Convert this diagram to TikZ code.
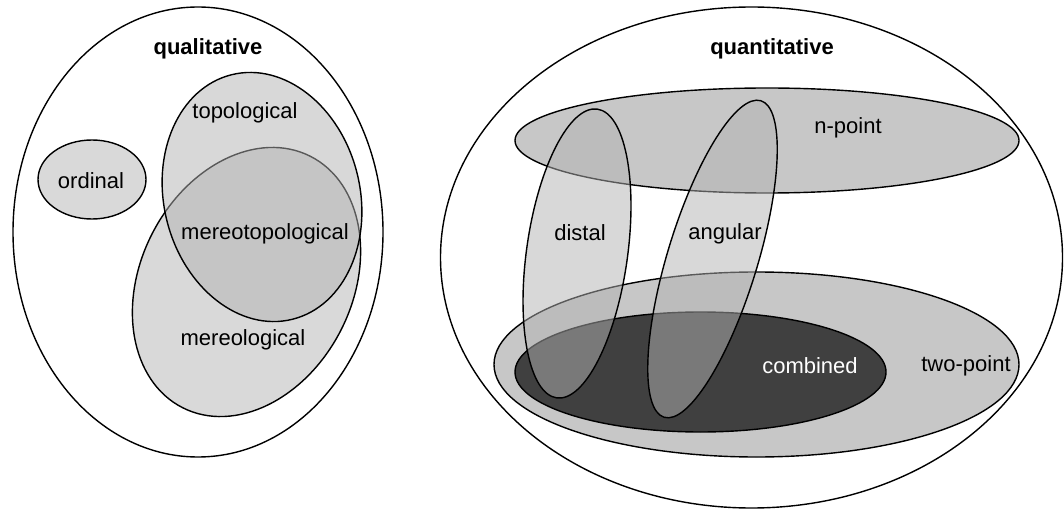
\documentclass[tikz,border=0pt]{standalone}
\usepackage{fontspec}
\setmainfont{Liberation Sans}

\begin{document}
\begin{tikzpicture}[x=1pt,y=-1pt,
    setshape/.style={draw=black,line width=1.4pt},
    glass/.style={setshape,fill=black!30,fill opacity=0.5},
    lbl/.style={font=\fontsize{22}{26}\selectfont,inner sep=0pt}]
    \useasboundingbox (0,0) rectangle (1064,510);
    % qualitative side
    \draw[setshape] (198,232) ellipse [x radius=185pt,y radius=225pt];
    \draw[setshape,fill=black!15] (92,179.5) ellipse [x radius=54pt,y radius=39.5pt];
    \draw[setshape,fill=black!15,rotate around={-27:(246.5,282)}] (246.5,282) ellipse [x radius=106pt,y radius=141pt];
    \draw[glass,rotate around={14:(262,197)}] (262,197) ellipse [x radius=98pt,y radius=126pt];
    \node[lbl,font=\fontsize{22}{26}\selectfont\bfseries] (qual) at (208,49) {qualitative};
    \node[lbl] (ordinal) at (91,181) {ordinal};
    \node[lbl] (topo) at (245,113) {topological};
    \node[lbl] (mereotopo) at (265,234) {mereotopological};
    \node[lbl] (mereo) at (243,340) {mereological};
    % quantitative side
    \draw[setshape] (751.5,257.5) ellipse [x radius=311pt,y radius=250.5pt];
    \draw[setshape,fill=black!22] (767,140.5) ellipse [x radius=252pt,y radius=52.5pt];
    \draw[setshape,fill=black!22] (756.5,364.5) ellipse [x radius=262.5pt,y radius=92.5pt];
    \draw[setshape,fill=black!75] (700.5,372) ellipse [x radius=185.5pt,y radius=60pt];
    \draw[glass,rotate around={-8:(577,253.5)}] (577,253.5) ellipse [x radius=50.5pt,y radius=145.8pt];
    \draw[glass,rotate around={-17:(712.5,259)}] (712.5,259) ellipse [x radius=45pt,y radius=165.5pt];
    \node[lbl,font=\fontsize{22}{26}\selectfont\bfseries] (quant) at (772,49) {quantitative};
    \node[lbl] (npoint) at (848,128) {n-point};
    \node[lbl] (distal) at (580,233) {distal};
    \node[lbl] (angular) at (725,234) {angular};
    \node[lbl,text=white] (combined) at (810,366) {combined};
    \node[lbl] (twopoint) at (966,366) {two-point};
\end{tikzpicture}
\end{document}
